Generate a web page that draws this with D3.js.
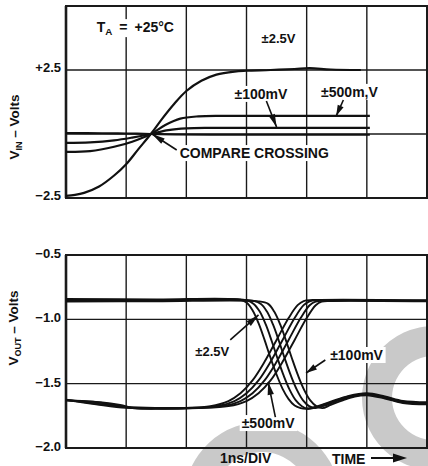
<!DOCTYPE html>
<html><head><meta charset="utf-8">
<script src="https://cdn.jsdelivr.net/npm/d3@7"></script>
<style>
html,body{margin:0;padding:0;background:#fff;}
svg{display:block;}
text{font-family:"Liberation Sans",Arial,Helvetica,sans-serif;font-weight:bold;fill:#111;}
</style>
</head><body>
<svg id="chart" width="428" height="466"></svg>
<script>
// ---- time axis (1 ns per division) ----
const timeGrid = [0, 1, 2, 3, 4, 5, 6];

// ---- input panel (V_IN) ----
const vinGrid = [-2.5, 0, 2.5, 5];
const vinTickValues = [2.5, -2.5];
const vinTickText = ["+2.5", "\u22122.5"];

// input drives [time ns, volts]
const vin2500 = [[0,-2.42],[0.15,-2.38],[0.3,-2.3],[0.55,-2.05],[0.8,-1.62],[1.0,-1.18],[1.2,-0.6],[1.41,0],[1.6,0.6],[1.8,1.18],[2.0,1.68],[2.25,2.08],[2.5,2.32],[2.8,2.44],[3.0,2.47],[3.4,2.5],[3.8,2.54],[4.05,2.57],[4.4,2.52],[4.9,2.5]];
const vin500 = [[0,-0.7],[0.4,-0.67],[0.8,-0.5],[1.1,-0.3],[1.41,0],[1.65,0.35],[1.9,0.6],[2.2,0.69],[2.6,0.71],[3.5,0.71],[5.05,0.71]];
const vin100 = [[0,-0.35],[0.4,-0.33],[0.8,-0.25],[1.1,-0.14],[1.41,0],[1.7,0.15],[2.0,0.22],[2.4,0.24],[3.5,0.24],[5.05,0.24]];
const vin20 = [[0,0.04],[0.6,0.03],[1.0,0.02],[1.41,0],[1.8,-0.02],[2.4,-0.03],[3.5,-0.03],[5.05,-0.03]];

// ---- output panel (V_OUT) ----
const voutGrid = [-2.0, -1.5, -1.0, -0.5];
const voutTickValues = [-0.5, -1.0, -1.5, -2.0];
const voutTickText = ["\u22120.5", "\u22121.0", "\u22121.5", "\u22122.0"];

// falling outputs (high -> low), fastest first
const fall2500 = [[0,-0.842],[1.5,-0.845],[2.9,-0.848],[3.0,-0.87],[3.1,-0.93],[3.2,-1.03],[3.3,-1.16],[3.4,-1.3],[3.5,-1.43],[3.6,-1.54],[3.7,-1.62],[3.8,-1.67],[3.9,-1.69],[4.0,-1.695],[4.15,-1.68],[4.4,-1.64],[4.7,-1.595],[5.0,-1.575],[5.3,-1.6],[5.6,-1.635],[6.0,-1.645]];
const fall500 = [[0,-0.85],[1.5,-0.852],[3.0,-0.852],[3.12,-0.88],[3.22,-0.94],[3.32,-1.04],[3.42,-1.17],[3.52,-1.31],[3.62,-1.44],[3.72,-1.55],[3.82,-1.63],[3.92,-1.675],[4.02,-1.695],[4.15,-1.685],[4.4,-1.645],[4.7,-1.6],[5.0,-1.58],[5.3,-1.605],[5.6,-1.64],[6.0,-1.65]];
const fall100 = [[0,-0.856],[1.5,-0.856],[3.1,-0.855],[3.24,-0.88],[3.34,-0.94],[3.44,-1.04],[3.54,-1.17],[3.64,-1.31],[3.74,-1.44],[3.84,-1.55],[3.94,-1.63],[4.04,-1.675],[4.14,-1.69],[4.3,-1.67],[4.5,-1.635],[4.75,-1.6],[5.0,-1.585],[5.3,-1.61],[5.6,-1.645],[6.0,-1.655]];
const fall20 = [[0,-0.862],[1.5,-0.86],[3.2,-0.86],[3.36,-0.88],[3.46,-0.94],[3.56,-1.04],[3.66,-1.17],[3.76,-1.31],[3.86,-1.44],[3.96,-1.55],[4.06,-1.63],[4.16,-1.675],[4.26,-1.69],[4.4,-1.665],[4.6,-1.63],[4.8,-1.6],[5.0,-1.59],[5.3,-1.615],[5.6,-1.65],[6.0,-1.66]];

// rising outputs (low -> high), fastest first
const rise2500 = [[0,-1.625],[0.5,-1.655],[1.0,-1.68],[1.5,-1.688],[2.0,-1.688],[2.4,-1.675],[2.7,-1.635],[2.9,-1.575],[3.1,-1.475],[3.3,-1.33],[3.5,-1.16],[3.7,-0.99],[3.85,-0.89],[3.95,-0.858],[4.1,-0.85],[6.0,-0.852]];
const rise500 = [[0,-1.63],[0.45,-1.64],[0.75,-1.66],[1.05,-1.688],[1.5,-1.692],[2.0,-1.69],[2.5,-1.675],[2.8,-1.635],[3.0,-1.575],[3.2,-1.475],[3.4,-1.33],[3.6,-1.16],[3.8,-0.99],[3.95,-0.89],[4.05,-0.86],[4.2,-0.852],[6.0,-0.855]];
const rise100 = [[0,-1.63],[0.6,-1.645],[0.9,-1.665],[1.15,-1.69],[1.6,-1.694],[2.1,-1.69],[2.6,-1.675],[2.9,-1.635],[3.1,-1.575],[3.3,-1.475],[3.5,-1.33],[3.7,-1.16],[3.9,-0.99],[4.05,-0.89],[4.15,-0.862],[4.3,-0.856],[6.0,-0.858]];
const rise20 = [[0,-1.627],[0.5,-1.66],[1.0,-1.688],[1.6,-1.695],[2.2,-1.69],[2.7,-1.675],[3.0,-1.635],[3.2,-1.575],[3.4,-1.475],[3.6,-1.33],[3.8,-1.16],[4.0,-0.99],[4.15,-0.89],[4.25,-0.862],[4.4,-0.857],[6.0,-0.86]];

const svg = d3.select("#chart");

// scales
const x = d3.scaleLinear().domain([0, 6]).range([66, 427]);
const yIn = d3.scaleLinear().domain([-2.5, 5]).range([198, 6]);
const yOut = d3.scaleLinear().domain([-2.0, -0.5]).range([448, 255]);

// faint watermark rings behind everything
const wm = svg.append("g").attr("fill", "#c9c9c9");
const ring = d3.arc();
wm.append("path")
  .attr("transform", "translate(434,398)")
  .attr("d", ring({innerRadius: 42, outerRadius: 72, startAngle: Math.PI * 0.92, endAngle: Math.PI * 2.08}));
wm.append("path")
  .attr("transform", "translate(262,500)")
  .attr("d", ring({innerRadius: 48, outerRadius: 78, startAngle: -Math.PI * 0.62, endAngle: Math.PI * 0.4}));

function panel(y, grid) {
  const g = svg.append("g");
  const [yb, yt] = y.range();
  // horizontal graticule
  g.append("g").selectAll("line").data(grid).join("line")
    .attr("x1", x(0)).attr("x2", x(6))
    .attr("y1", d => y(d)).attr("y2", d => y(d))
    .attr("stroke", "#1a1a1a").attr("stroke-width", 1.3);
  // vertical graticule
  g.append("g").selectAll("line").data(timeGrid).join("line")
    .attr("x1", d => x(d)).attr("x2", d => x(d))
    .attr("y1", yt).attr("y2", yb)
    .attr("stroke", "#1a1a1a").attr("stroke-width", d => (d === 0 ? 2.6 : 1.4));
  // frame
  g.append("rect")
    .attr("x", x(0)).attr("y", yt).attr("width", x(6) - x(0)).attr("height", yb - yt)
    .attr("fill", "none").attr("stroke", "#1a1a1a").attr("stroke-width", 2);
  return g;
}

panel(yIn, vinGrid);
panel(yOut, voutGrid);

// tick labels
svg.append("g").selectAll("text").data(vinTickValues).join("text")
  .attr("x", 61).attr("y", d => yIn(d) + 2)
  .attr("text-anchor", "end").attr("font-size", 13)
  .text((d, i) => vinTickText[i]);
svg.append("g").selectAll("text").data(voutTickValues).join("text")
  .attr("x", 61).attr("y", d => yOut(d) + 3)
  .attr("text-anchor", "end").attr("font-size", 13)
  .text((d, i) => voutTickText[i]);

// axis titles
function yTitle(cx, cy, sub) {
  const t = svg.append("text")
    .attr("transform", `translate(${cx},${cy}) rotate(-90)`)
    .attr("text-anchor", "middle").attr("font-size", 13.5);
  t.append("tspan").text("V");
  t.append("tspan").attr("font-size", 9).attr("dy", 3).text(sub);
  t.append("tspan").attr("dy", -3).text(" \u2013 Volts");
}
yTitle(19, 127, "IN");
yTitle(18, 328, "OUT");

// text labels with a white backing that interrupts the graticule
function label(px, py, parts, size) {
  const t = svg.append("text").attr("x", px).attr("y", py).attr("font-size", size);
  parts.forEach(p => {
    const s = t.append("tspan").text(p.text);
    if (p.sub) s.attr("font-size", size * 0.7).attr("dy", 3);
    if (p.up) s.attr("dy", -3);
    if (p.dx) s.attr("dx", p.dx);
  });
  const bb = t.node().getBBox();
  svg.insert("rect", function () { return t.node(); })
    .attr("x", bb.x - 2).attr("y", bb.y).attr("width", bb.width + 4).attr("height", bb.height)
    .attr("fill", "#fff");
  return t;
}

// traces
const lineIn = d3.line().x(d => x(d[0])).y(d => yIn(d[1])).curve(d3.curveCatmullRom.alpha(0.5));
const lineOut = d3.line().x(d => x(d[0])).y(d => yOut(d[1])).curve(d3.curveCatmullRom.alpha(0.5));

svg.append("g").attr("fill", "none").attr("stroke", "#111").attr("stroke-width", 2.2)
  .selectAll("path").data([vin20, vin100, vin500, vin2500]).join("path")
  .attr("d", lineIn);
svg.append("g").attr("fill", "none").attr("stroke", "#111").attr("stroke-width", 1.9)
  .selectAll("path").data([fall2500, fall500, fall100, fall20, rise2500, rise500, rise100, rise20]).join("path")
  .attr("d", lineOut);

// annotation arrows (tail and tip in data units)
function arrow(scaleY, t0, v0, t1, v1, headLen = 13, headW = 3.2) {
  const ax = x(t0), ay = scaleY(v0), bx = x(t1), by = scaleY(v1);
  const ang = Math.atan2(by - ay, bx - ax);
  svg.append("line").attr("x1", ax).attr("y1", ay).attr("x2", bx).attr("y2", by)
    .attr("stroke", "#111").attr("stroke-width", 1.6);
  const hx = bx - headLen * Math.cos(ang), hy = by - headLen * Math.sin(ang);
  const nx = -Math.sin(ang) * headW, ny = Math.cos(ang) * headW;
  svg.append("path")
    .attr("d", `M${bx},${by}L${hx + nx},${hy + ny}L${hx - nx},${hy - ny}Z`)
    .attr("fill", "#111");
}

// input panel labels
label(x(0.51), yIn(3.98), [{text: "T"}, {text: "A", sub: true}, {text: "=", up: true, dx: 7}, {text: "+25\u00b0C", dx: 7}], 14);
label(x(3.25), yIn(3.55), [{text: "\u00b12.5V"}], 13);
label(x(2.8), yIn(1.37), [{text: "\u00b1100mV"}], 14);
label(x(4.24), yIn(1.45), [{text: "\u00b1500m,V"}], 14);
label(x(1.89), yIn(-0.94), [{text: "COMPARE CROSSING"}], 14);
arrow(yIn, 3.33, 1.29, 3.5, 0.27);
arrow(yIn, 4.61, 1.33, 4.49, 0.7, 11);
arrow(yIn, 1.84, -0.625, 1.43, 0.0, 13);

// output panel labels
label(x(2.15), yOut(-1.285), [{text: "\u00b12.5V"}], 13);
label(x(2.92), yOut(-1.845), [{text: "\u00b1500mV"}], 14);
label(x(4.39), yOut(-1.316), [{text: "\u00b1100mV"}], 14);
arrow(yOut, 2.73, -1.16, 3.2, -0.966);
arrow(yOut, 3.48, -1.76, 3.36, -1.487);
arrow(yOut, 4.31, -1.316, 3.99, -1.417, 11);

// time axis caption
svg.append("text").attr("x", 220).attr("y", 463).attr("font-size", 14).text("1ns/DIV");
svg.append("text").attr("x", 332).attr("y", 464).attr("font-size", 14).text("TIME");
svg.append("line").attr("x1", 371).attr("y1", 458).attr("x2", 396).attr("y2", 458)
  .attr("stroke", "#111").attr("stroke-width", 2);
svg.append("path").attr("d", "M407,458L393,453.5L393,462.5Z").attr("fill", "#111");
</script>
</body></html>
